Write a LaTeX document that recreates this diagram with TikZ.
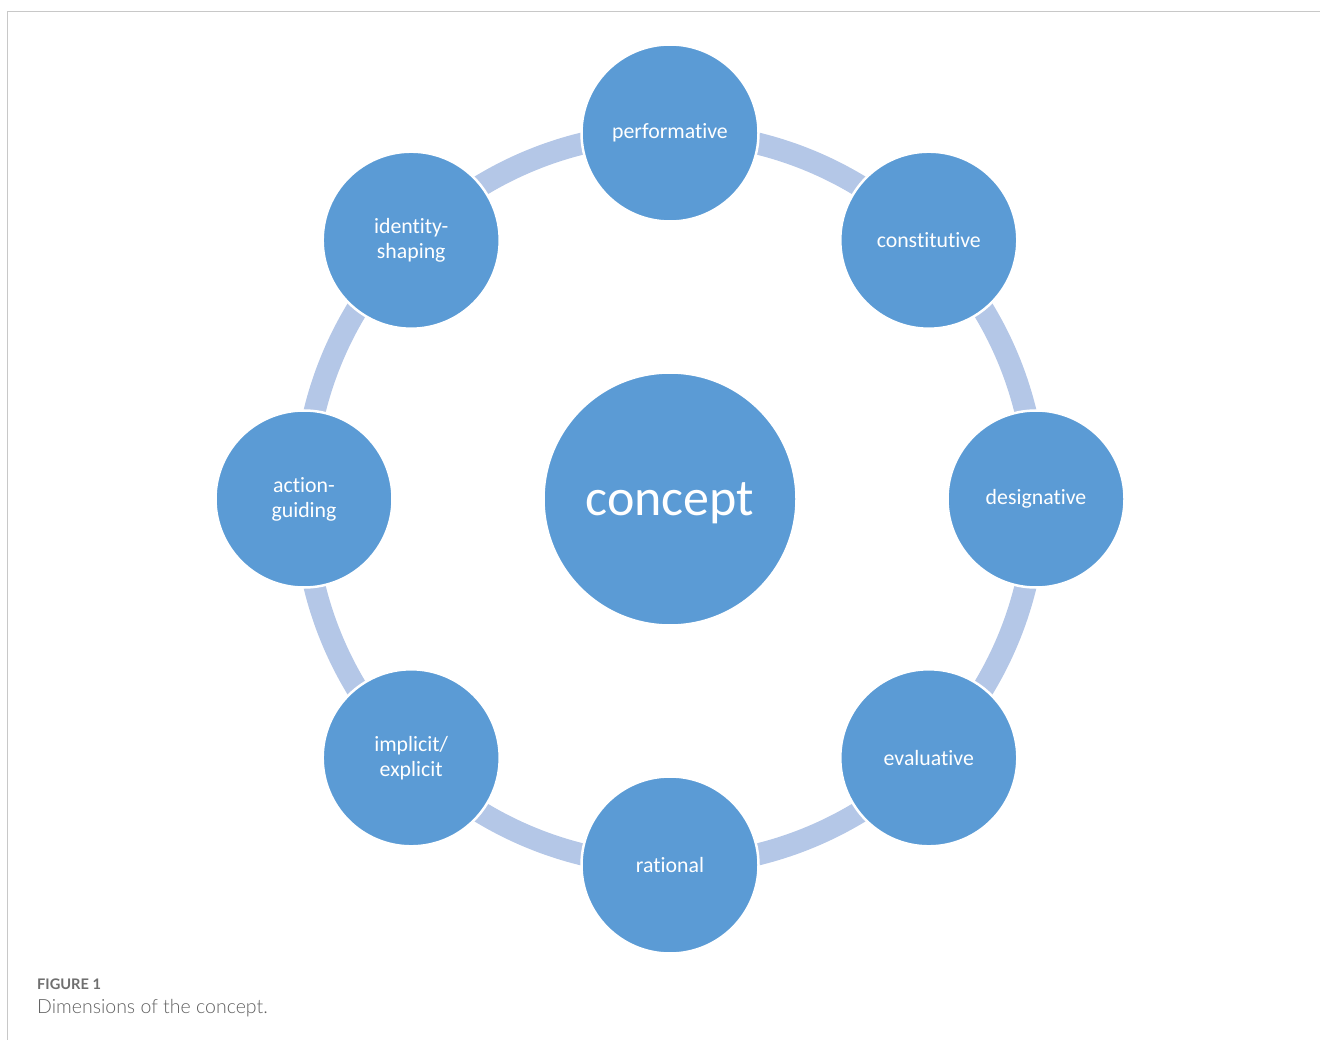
\documentclass[tikz,border=0pt]{standalone}
\usepackage{fontspec}
\setmainfont{Carlito}[Ligatures=NoCommon]
\newfontfamily\capfont{Lato}
\newfontfamily\caplight{Lato Light}
\usetikzlibrary{calc}
\definecolor{dimblue}{HTML}{5B9BD5}
\definecolor{linkblue}{HTML}{B4C7E7}
\definecolor{framegray}{HTML}{C8C8C8}
\definecolor{capgray}{HTML}{5F5F5F}
\begin{document}
\begin{tikzpicture}[x=1pt,y=1pt,
  dimbox/.style={circle,fill=dimblue,draw=white,line width=2.5pt,minimum size=177pt,inner sep=0pt,
    text=white,font=\fontsize{21.8}{25}\selectfont,align=center},
  corebox/.style={circle,fill=dimblue,draw=white,line width=2.5pt,minimum size=253pt,inner sep=0pt,
    text=white,font=\fontsize{52}{56}\selectfont},
  ringlink/.style={draw=linkblue,line width=22pt}]
\useasboundingbox (0,-1040) rectangle (1320,0);
% frame
\draw[framegray,line width=1.5pt] (7.5,-1040) -- (7.5,-11.5) -- (1320,-11.5);
% ring of links between the dimensions
\coordinate (c) at (670,-499);
\draw[ringlink] (c) circle[radius=366];
% centre (extra box height lowers the word a little)
\node[corebox] (concept) at (c) {\raisebox{0pt}[\dimexpr\height+8pt\relax]{concept}};
% dimensions around the ring
\node[dimbox] (perf)  at ($(c)+(90:366)$)   {performative};
\node[dimbox] (const) at ($(c)+(45:366)$)   {constitutive};
\node[dimbox] (desig) at ($(c)+(0:366)$)    {designative};
\node[dimbox] (eval)  at ($(c)+(-45:366)$)  {evaluative};
\node[dimbox] (ratio) at ($(c)+(-90:366)$)  {rational};
\node[dimbox] (impl)  at ($(c)+(-135:366)$) {implicit/\\explicit};
\node[dimbox] (act)   at ($(c)+(180:366)$)  {action-\\guiding};
\node[dimbox] (ident) at ($(c)+(135:366)$)  {identity-\\shaping};
% caption
\node[anchor=base west,inner sep=0pt,text=capgray!90,font=\capfont\bfseries\fontsize{14.6}{17}\selectfont] (fig) at (37,-989) {FIGURE 1};
\node[anchor=base west,inner sep=0pt,text=capgray,font=\caplight\fontsize{19.5}{23}\selectfont] (cap) at (37,-1013) {Dimensions of the concept.};
\end{tikzpicture}
\end{document}
